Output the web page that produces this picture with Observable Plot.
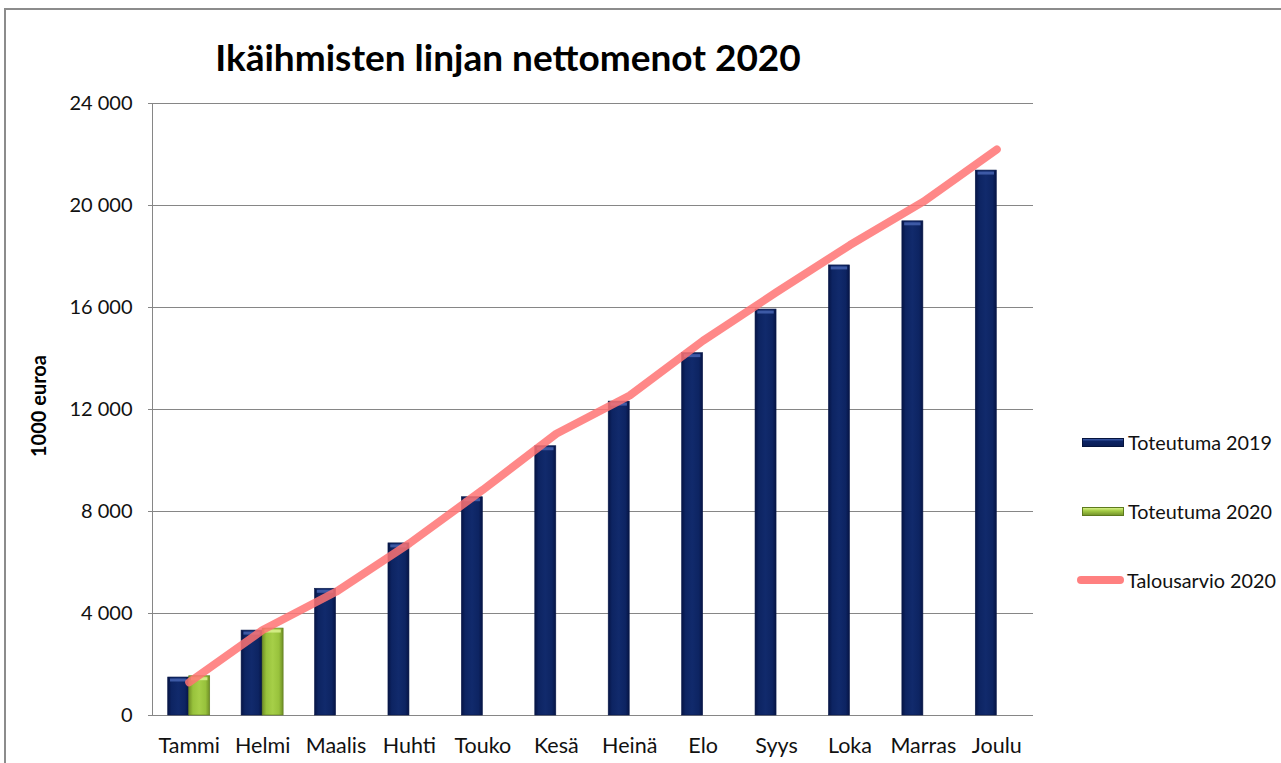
<!DOCTYPE html>
<html>
<head>
<meta charset="utf-8">
<script src="https://cdn.jsdelivr.net/npm/d3@7"></script>
<script src="https://cdn.jsdelivr.net/npm/@observablehq/plot@0.6"></script>
<style>
  html, body { margin: 0; padding: 0; background: #fff; overflow: hidden; }
  #wrap { position: relative; width: 1281px; height: 763px; overflow: hidden; font-family: Lato, "Open Sans", sans-serif; }
  #frame { position: absolute; left: 4px; top: 8px; width: 1300px; height: 800px; border: 2px solid #8c8c8c; box-sizing: border-box; }
  #title { position: absolute; left: 0; top: 38px; width: 1016px; text-align: center; font-weight: bold; font-size: 37px; line-height: 38px; color: #000; }
  #ylabel { position: absolute; left: 38px; top: 406px; transform: translate(-50%, -50%) rotate(-90deg); font-weight: bold; font-size: 20px; white-space: nowrap; color: #000; }
  #chart { position: absolute; left: 0; top: 0; }
  #chart svg text { fill: #111; }
  #chart svg [aria-label^="x-axis"] text, #chart svg [aria-label^="x-axis"] { font-size: 21.5px; }
  .leg { position: absolute; left: 1077px; height: 24px; display: flex; align-items: center; font-size: 19.8px; color: #111; white-space: nowrap; }
  .sw { width: 42px; height: 9px; margin-left: 5px; margin-right: 4px; box-sizing: border-box; }
  .sw.s19 { background: linear-gradient(to bottom, #3d5cab 0%, #0d2464 35%, #0a1d55 100%); border: 1px solid #06143d; }
  .sw.s20 { background: linear-gradient(to bottom, #d6ef86 0%, #a4cc45 40%, #76962c 100%); border: 1px solid #5d7a1d; }
  .sw.line { width: 47px; height: 8px; margin-left: 0; margin-right: 3px; background: #ff8080; border-radius: 4px; }
</style>
</head>
<body>
<div id="wrap">
  <div id="frame"></div>
  <div id="chart"></div>
  <div id="title">Ikäihmisten linjan nettomenot 2020</div>
  <div id="ylabel">1000 euroa</div>
  <div class="leg" style="top:430px"><div class="sw s19"></div>Toteutuma 2019</div>
  <div class="leg" style="top:499px"><div class="sw s20"></div>Toteutuma 2020</div>
  <div class="leg" style="top:568px"><div class="sw line"></div>Talousarvio 2020</div>
</div>
<script>
const months = ["Tammi", "Helmi", "Maalis", "Huhti", "Touko", "Kesä", "Heinä", "Elo", "Syys", "Loka", "Marras", "Joulu"];
const toteutuma2019 = [1490, 3330, 4970, 6750, 8560, 10560, 12310, 14210, 15920, 17650, 19380, 21370];
const toteutuma2020 = [1540, 3410];
const talousarvio2020 = [1300, 3350, 4850, 6750, 8850, 11050, 12550, 14700, 16600, 18450, 20150, 22200];
const yTicks = [0, 4000, 8000, 12000, 16000, 20000, 24000];

const bars2019 = months.map((m, i) => ({month: m, value: toteutuma2019[i]}));
const bars2020 = toteutuma2020.map((v, i) => ({month: months[i], value: v}));
const budget = months.map((m, i) => ({month: m, value: talousarvio2020[i]}));

const fmt = d => d3.format(",")(d).replace(/,/g, " ");

const plot = Plot.plot({
  width: 1281,
  height: 763,
  marginLeft: 152,
  marginRight: 248,
  marginTop: 103,
  marginBottom: 48,
  style: {fontFamily: "Lato, 'Open Sans', sans-serif", fontSize: "20px", color: "#868686", background: "transparent"},
  x: {domain: months, padding: 0, round: false, label: null, tickSize: 0, tickPadding: 22},
  y: {domain: [0, 24000], ticks: yTicks, tickFormat: fmt, label: null, tickSize: 4, tickPadding: 16, line: true},
  marks: [
    Plot.ruleY(yTicks, {stroke: "#868686", strokeWidth: 1}),
    Plot.barY(bars2019, {x: "month", y: "value", fill: "url(#g19)", stroke: "#0a1a4a", strokeWidth: 0.6, insetLeft: 15.7, insetRight: 36.7}),
    Plot.tickY(bars2019, {x: "month", y: "value", stroke: "#4563b0", strokeWidth: 3, dy: 2.5, insetLeft: 18, insetRight: 39, strokeOpacity: 0.85}),
    Plot.barY(bars2020, {x: "month", y: "value", fill: "url(#g20)", stroke: "#5d7a1d", strokeWidth: 0.6, insetLeft: 36.7, insetRight: 15.7}),
    Plot.tickY(bars2020, {x: "month", y: "value", stroke: "#d8f08c", strokeWidth: 3, dy: 2.5, insetLeft: 39, insetRight: 18, strokeOpacity: 0.9}),
    Plot.lineY(budget, {x: "month", y: "value", stroke: "#ff7373", strokeOpacity: 0.85, strokeWidth: 8, strokeLinecap: "round", strokeLinejoin: "round"})
  ]
});

const ns = "http://www.w3.org/2000/svg";
const defs = document.createElementNS(ns, "defs");
defs.innerHTML = `
  <linearGradient id="g19" x1="0" x2="1" y1="0" y2="0">
    <stop offset="0" stop-color="#061445"/>
    <stop offset="0.18" stop-color="#0d2462"/>
    <stop offset="0.5" stop-color="#112a6c"/>
    <stop offset="0.82" stop-color="#0d2462"/>
    <stop offset="1" stop-color="#061445"/>
  </linearGradient>
  <linearGradient id="g20" x1="0" x2="1" y1="0" y2="0">
    <stop offset="0" stop-color="#6f8e25"/>
    <stop offset="0.2" stop-color="#98c23c"/>
    <stop offset="0.5" stop-color="#a6cf48"/>
    <stop offset="0.8" stop-color="#98c23c"/>
    <stop offset="1" stop-color="#6f8e25"/>
  </linearGradient>`;
plot.insertBefore(defs, plot.firstChild);
document.getElementById("chart").appendChild(plot);
</script>
</body>
</html>
